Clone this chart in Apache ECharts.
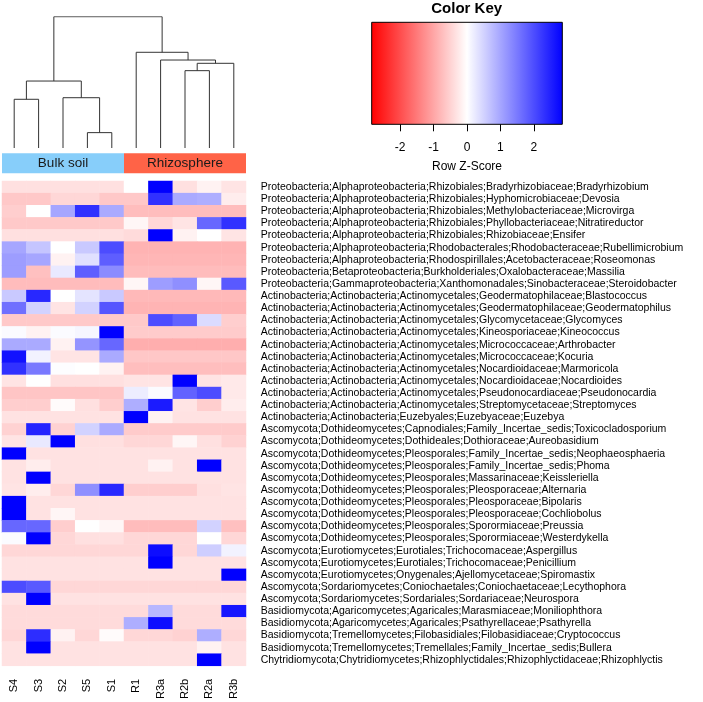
<!DOCTYPE html>
<html>
<head>
<meta charset="utf-8">
<script src="https://cdn.jsdelivr.net/npm/echarts@6/dist/echarts.min.js"></script>
<style>
  html, body { margin: 0; padding: 0; background: #fff; }
  #main { width: 703px; height: 702px; }
</style>
</head>
<body>
<div id="main"></div>
<script>
// column order as in the dendrogram
const colLabels = ['S4', 'S3', 'S2', 'S5', 'S1', 'R1', 'R3a', 'R2b', 'R2a', 'R3b'];
const colGroups = ['Bulk soil', 'Bulk soil', 'Bulk soil', 'Bulk soil', 'Bulk soil',
  'Rhizosphere', 'Rhizosphere', 'Rhizosphere', 'Rhizosphere', 'Rhizosphere'];

const rowLabels = [
  'Proteobacteria;Alphaproteobacteria;Rhizobiales;Bradyrhizobiaceae;Bradyrhizobium',
  'Proteobacteria;Alphaproteobacteria;Rhizobiales;Hyphomicrobiaceae;Devosia',
  'Proteobacteria;Alphaproteobacteria;Rhizobiales;Methylobacteriaceae;Microvirga',
  'Proteobacteria;Alphaproteobacteria;Rhizobiales;Phyllobacteriaceae;Nitratireductor',
  'Proteobacteria;Alphaproteobacteria;Rhizobiales;Rhizobiaceae;Ensifer',
  'Proteobacteria;Alphaproteobacteria;Rhodobacterales;Rhodobacteraceae;Rubellimicrobium',
  'Proteobacteria;Alphaproteobacteria;Rhodospirillales;Acetobacteraceae;Roseomonas',
  'Proteobacteria;Betaproteobacteria;Burkholderiales;Oxalobacteraceae;Massilia',
  'Proteobacteria;Gammaproteobacteria;Xanthomonadales;Sinobacteraceae;Steroidobacter',
  'Actinobacteria;Actinobacteria;Actinomycetales;Geodermatophilaceae;Blastococcus',
  'Actinobacteria;Actinobacteria;Actinomycetales;Geodermatophilaceae;Geodermatophilus',
  'Actinobacteria;Actinobacteria;Actinomycetales;Glycomycetaceae;Glycomyces',
  'Actinobacteria;Actinobacteria;Actinomycetales;Kineosporiaceae;Kineococcus',
  'Actinobacteria;Actinobacteria;Actinomycetales;Micrococcaceae;Arthrobacter',
  'Actinobacteria;Actinobacteria;Actinomycetales;Micrococcaceae;Kocuria',
  'Actinobacteria;Actinobacteria;Actinomycetales;Nocardioidaceae;Marmoricola',
  'Actinobacteria;Actinobacteria;Actinomycetales;Nocardioidaceae;Nocardioides',
  'Actinobacteria;Actinobacteria;Actinomycetales;Pseudonocardiaceae;Pseudonocardia',
  'Actinobacteria;Actinobacteria;Actinomycetales;Streptomycetaceae;Streptomyces',
  'Actinobacteria;Actinobacteria;Euzebyales;Euzebyaceae;Euzebya',
  'Ascomycota;Dothideomycetes;Capnodiales;Family_Incertae_sedis;Toxicocladosporium',
  'Ascomycota;Dothideomycetes;Dothideales;Dothioraceae;Aureobasidium',
  'Ascomycota;Dothideomycetes;Pleosporales;Family_Incertae_sedis;Neophaeosphaeria',
  'Ascomycota;Dothideomycetes;Pleosporales;Family_Incertae_sedis;Phoma',
  'Ascomycota;Dothideomycetes;Pleosporales;Massarinaceae;Keissleriella',
  'Ascomycota;Dothideomycetes;Pleosporales;Pleosporaceae;Alternaria',
  'Ascomycota;Dothideomycetes;Pleosporales;Pleosporaceae;Bipolaris',
  'Ascomycota;Dothideomycetes;Pleosporales;Pleosporaceae;Cochliobolus',
  'Ascomycota;Dothideomycetes;Pleosporales;Sporormiaceae;Preussia',
  'Ascomycota;Dothideomycetes;Pleosporales;Sporormiaceae;Westerdykella',
  'Ascomycota;Eurotiomycetes;Eurotiales;Trichocomaceae;Aspergillus',
  'Ascomycota;Eurotiomycetes;Eurotiales;Trichocomaceae;Penicillium',
  'Ascomycota;Eurotiomycetes;Onygenales;Ajellomycetaceae;Spiromastix',
  'Ascomycota;Sordariomycetes;Coniochaetales;Coniochaetaceae;Lecythophora',
  'Ascomycota;Sordariomycetes;Sordariales;Sordariaceae;Neurospora',
  'Basidiomycota;Agaricomycetes;Agaricales;Marasmiaceae;Moniliophthora',
  'Basidiomycota;Agaricomycetes;Agaricales;Psathyrellaceae;Psathyrella',
  'Basidiomycota;Tremellomycetes;Filobasidiales;Filobasidiaceae;Cryptococcus',
  'Basidiomycota;Tremellomycetes;Tremellales;Family_Incertae_sedis;Bullera',
  'Chytridiomycota;Chytridiomycetes;Rhizophlyctidales;Rhizophlyctidaceae;Rhizophlyctis'
];

// row z-scores, one row per taxon, columns in colLabels order
const zScores = [
  [-0.35, -0.35, -0.35, -0.35, -0.35, 0, 2.85, -0.35, -0.15, -0.3],
  [-0.62, -0.62, -0.45, -0.45, -0.62, -0.62, 2.3, 0.95, 0.9, -0.2],
  [-0.55, 0, 1.0, 2.3, 0.95, -0.74, -0.74, -0.74, -0.74, -0.74],
  [-0.6, -0.6, -0.6, -0.6, -0.6, -0.1, -0.45, -0.3, 1.7, 2.3],
  [-0.35, -0.35, -0.35, -0.35, -0.35, -0.4, 2.85, -0.15, 0, -0.3],
  [1.0, 0.65, 0, 0.6, 2.0, -0.85, -0.85, -0.85, -0.85, -0.85],
  [1.1, 1.0, -0.15, 0.35, 1.8, -0.82, -0.82, -0.82, -0.82, -0.82],
  [1.1, -0.7, 0.25, 1.8, 1.3, -0.75, -0.75, -0.75, -0.75, -0.75],
  [-0.75, -0.75, -0.75, -0.75, -0.75, -0.1, 1.1, 1.25, -0.1, 1.85],
  [0.6, 2.4, 0, 0.3, 0.6, -0.78, -0.78, -0.78, -0.78, -0.78],
  [1.6, 0.5, -0.3, 0.5, 1.9, -0.84, -0.84, -0.84, -0.84, -0.84],
  [-0.6, -0.6, -0.6, -0.6, -0.6, -0.6, 2.0, 1.75, 0.4, -0.55],
  [0.05, -0.15, 0.05, 0.1, 2.85, -0.58, -0.58, -0.58, -0.58, -0.58],
  [0.95, 0.95, -0.15, 1.2, 1.7, -0.9, -0.9, -0.9, -0.9, -0.9],
  [2.65, 0.15, -0.3, -0.3, 0.95, -0.63, -0.63, -0.63, -0.63, -0.63],
  [2.3, 1.5, 0.02, 0, -0.15, -0.73, -0.73, -0.73, -0.73, -0.73],
  [-0.3, 0, -0.35, -0.35, -0.35, -0.3, -0.3, 2.85, -0.3, -0.25],
  [-0.65, -0.65, -0.65, -0.65, -0.65, 0.2, 0.05, 1.75, 2.0, -0.25],
  [-0.55, -0.55, -0.05, -0.35, -0.55, 0.9, 2.55, -0.3, -0.55, -0.2],
  [-0.32, -0.32, -0.32, -0.32, -0.32, 2.85, -0.15, -0.32, -0.32, -0.32],
  [-0.5, 2.45, -0.5, 0.5, 0.95, -0.58, -0.58, -0.58, -0.58, -0.58],
  [-0.3, 0.25, 2.85, -0.35, -0.35, -0.45, -0.45, -0.1, -0.35, -0.5],
  [2.85, -0.32, -0.32, -0.32, -0.32, -0.32, -0.32, -0.32, -0.32, -0.32],
  [-0.32, -0.2, -0.32, -0.32, -0.32, -0.32, -0.15, -0.32, 2.85, -0.32],
  [-0.32, 2.85, -0.32, -0.32, -0.32, -0.32, -0.32, -0.32, -0.32, -0.32],
  [-0.3, -0.2, -0.45, 1.25, 2.4, -0.55, -0.55, -0.55, -0.35, -0.3],
  [2.85, -0.32, -0.32, -0.32, -0.32, -0.32, -0.32, -0.32, -0.32, -0.32],
  [2.85, -0.32, -0.1, -0.32, -0.32, -0.32, -0.32, -0.32, -0.32, -0.32],
  [1.7, 1.7, -0.55, 0, -0.1, -0.75, -0.75, -0.75, 0.5, -0.7],
  [0.05, 2.85, -0.45, -0.35, -0.35, -0.45, -0.45, -0.45, 0, -0.45],
  [-0.45, -0.45, -0.45, -0.45, -0.45, -0.45, 2.7, -0.45, 0.55, 0.15],
  [-0.32, -0.32, -0.32, -0.32, -0.32, -0.32, 2.85, -0.32, -0.32, -0.32],
  [-0.32, -0.32, -0.32, -0.32, -0.32, -0.32, -0.32, -0.32, -0.32, 2.85],
  [2.0, 1.85, -0.45, -0.45, -0.45, -0.45, -0.45, -0.45, -0.45, -0.45],
  [-0.32, 2.85, -0.32, -0.32, -0.32, -0.32, -0.32, -0.32, -0.32, -0.32],
  [-0.4, -0.4, -0.4, -0.4, -0.4, -0.4, 0.8, -0.4, -0.4, 2.6],
  [-0.4, -0.4, -0.4, -0.4, -0.4, 0.9, 2.7, -0.4, -0.4, -0.4],
  [-0.45, 2.35, -0.15, -0.45, -0.05, -0.45, -0.45, -0.5, 0.9, -0.45],
  [-0.32, 2.85, -0.32, -0.32, -0.32, -0.32, -0.32, -0.32, -0.15, -0.32],
  [-0.32, -0.32, -0.32, -0.32, -0.32, -0.32, -0.32, -0.32, 2.85, -0.32]
];

// column dendrogram: [left, right, height]; 'cN' = cluster made at merge N
const dendroMerges = [
  ['S5', 'S1', 0.117],
  ['S4', 'S3', 0.371],
  ['S2', 'c0', 0.383],
  ['c1', 'c2', 0.510],
  ['R2b', 'R2a', 0.589],
  ['c4', 'R3b', 0.645],
  ['R3a', 'c5', 0.670],
  ['R1', 'c6', 0.729],
  ['c3', 'c7', 1.0]
];

const zMin = -2.85;
const zMax = 2.85;
const keyTicks = [-2, -1, 0, 1, 2];

const font = 'Liberation Sans, Arial, Helvetica, sans-serif';
const groupColor = { 'Bulk soil': '#87CEFA', 'Rhizosphere': '#FF6347' };

// heatmap cells
const cells = [];
zScores.forEach((row, r) => row.forEach((v, c) => cells.push([c, r, v])));

// dendrogram segments
const nodes = {};
colLabels.forEach((c, i) => { nodes[c] = { x: i + 0.5, h: 0 }; });
const dendroLines = dendroMerges.map(([a, b, h], i) => {
  const l = nodes[a], r = nodes[b];
  nodes['c' + i] = { x: (l.x + r.x) / 2, h: h };
  return { coords: [[l.x, l.h], [l.x, h], [r.x, h], [r.x, r.h]] };
});

// runs of the side colour bar
const groupRuns = [];
colGroups.forEach((g, i) => {
  const last = groupRuns[groupRuns.length - 1];
  if (last && last.name === g) last.end = i + 1;
  else groupRuns.push({ name: g, start: i, end: i + 1 });
});

const chart = echarts.init(document.getElementById('main'));

chart.setOption({
  animation: false,
  backgroundColor: '#fff',
  textStyle: { fontFamily: font },
  graphic: [{
    type: 'text',
    x: 466.7, y: 9,
    style: {
      text: 'Color Key', fill: '#000', font: 'bold 15px ' + font,
      textAlign: 'center', textVerticalAlign: 'middle'
    }
  }],
  grid: [
    { left: 2, top: 181, width: 244, height: 487 },
    {
      left: 371.7, top: 22.3, width: 190.6, height: 102, show: true,
      borderColor: '#000', borderWidth: 1,
      backgroundColor: {
        type: 'linear', x: 0, y: 0, x2: 1, y2: 0,
        colorStops: [
          { offset: 0, color: '#FF0000' },
          { offset: 0.5, color: '#FFFFFF' },
          { offset: 1, color: '#0000FF' }
        ]
      }
    },
    { left: 2, top: 16.7, width: 244, height: 131.3 },
    { left: 2, top: 153.3, width: 244, height: 20 }
  ],
  xAxis: [
    {
      gridIndex: 0, type: 'category', data: colLabels, position: 'bottom',
      axisLine: { show: false }, axisTick: { show: false }, splitLine: { show: false },
      axisLabel: { rotate: 90, margin: 13, fontSize: 11, color: '#000', interval: 0 }
    },
    {
      gridIndex: 1, type: 'value', min: zMin, max: zMax, position: 'bottom',
      axisLine: { show: false }, splitLine: { show: false },
      axisTick: { show: true, length: 7, customValues: keyTicks, lineStyle: { color: '#000', width: 1 } },
      axisLabel: { customValues: keyTicks, margin: 17, fontSize: 12, color: '#000' },
      name: 'Row Z-Score', nameLocation: 'middle', nameGap: 36,
      nameTextStyle: { fontSize: 12, color: '#000' }
    },
    { gridIndex: 2, type: 'value', min: 0, max: colLabels.length, show: false },
    { gridIndex: 3, type: 'value', min: 0, max: colLabels.length, show: false }
  ],
  yAxis: [
    {
      gridIndex: 0, type: 'category', data: rowLabels, inverse: true, position: 'right',
      axisLine: { show: false }, axisTick: { show: false }, splitLine: { show: false },
      axisLabel: { margin: 14.7, fontSize: 10.5, color: '#000', interval: 0 }
    },
    { gridIndex: 1, type: 'value', min: 0, max: 1, show: false },
    { gridIndex: 2, type: 'value', min: 0, max: 1, show: false },
    { gridIndex: 3, type: 'value', min: 0, max: 1, show: false }
  ],
  visualMap: {
    show: false, seriesIndex: 0, min: zMin, max: zMax, dimension: 2,
    inRange: { color: ['#FF0000', '#FFFFFF', '#0000FF'] }
  },
  series: [
    {
      type: 'heatmap', xAxisIndex: 0, yAxisIndex: 0, data: cells,
      itemStyle: { borderWidth: 0 }, emphasis: { disabled: true }
    },
    {
      type: 'lines', coordinateSystem: 'cartesian2d', xAxisIndex: 2, yAxisIndex: 2,
      polyline: true, data: dendroLines, silent: true,
      lineStyle: { color: '#333', width: 1, opacity: 1 }
    },
    {
      type: 'custom', xAxisIndex: 3, yAxisIndex: 3, silent: true,
      data: groupRuns.map(g => [g.start, g.end]),
      renderItem: (params, api) => {
        const g = groupRuns[params.dataIndex];
        const p0 = api.coord([api.value(0), 1]);
        const p1 = api.coord([api.value(1), 0]);
        return {
          type: 'rect',
          shape: { x: p0[0], y: p0[1], width: p1[0] - p0[0], height: p1[1] - p0[1] },
          style: { fill: groupColor[g.name] },
          textContent: { style: { text: g.name, fill: '#1a1a1a', font: '13.5px ' + font } },
          textConfig: { position: 'inside' }
        };
      }
    }
  ]
});
</script>
</body>
</html>
